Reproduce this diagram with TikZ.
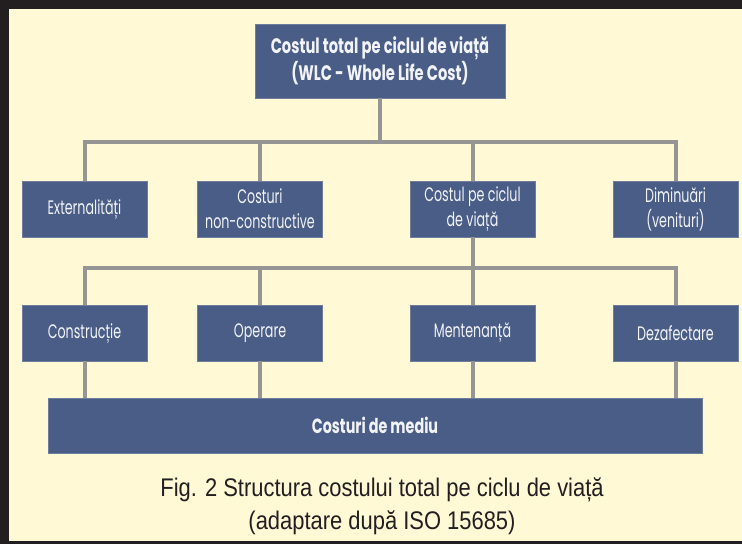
\documentclass[tikz,border=0pt]{standalone}
\usepackage{fontspec}
\newfontfamily\boxfont[FakeStretch=0.65]{Poppins}
\newfontfamily\boxfontb[FakeStretch=0.70]{Poppins}
\newfontfamily\capfont[FakeStretch=0.86]{Liberation Sans}
\definecolor{frameC}{HTML}{231F20}
\definecolor{creamC}{HTML}{FFF9D6}
\definecolor{boxC}{HTML}{4A5D87}
\definecolor{boxEdge}{HTML}{6E7D9E}
\definecolor{lineC}{HTML}{959595}
\definecolor{txtC}{HTML}{F2F3F7}
\tikzset{
  bx/.style={rectangle, fill=boxC, draw=boxEdge, line width=0.6pt, text=txtC, align=center, inner sep=0pt},
  topbx/.style={bx, minimum width=250pt, minimum height=74pt, font={\boxfontb\bfseries\fontsize{21}{25}\selectfont}},
  lvbx/.style={bx, minimum width=125pt, minimum height=56pt, font={\boxfont\fontsize{19.5}{25}\selectfont}},
  envbx/.style={bx, minimum width=654pt, minimum height=55pt, font={\boxfontb\bfseries\fontsize{20.5}{24}\selectfont}},
  conn/.style={draw=lineC, line width=4pt, line join=miter},
  captxt/.style={align=center, text=frameC, font={\capfont\fontsize{25.5}{33}\selectfont}}
}
\begin{document}
\begin{tikzpicture}[x=1pt,y=-1pt]
\fill[frameC] (0,0) rectangle (742,544);
\fill[creamC] (9,9) rectangle (742,541);
\useasboundingbox (0,0) rectangle (742,544);

% nodes
\node[topbx] (top) at (380,61) {Costul total pe ciclul de viață\\(WLC - Whole Life Cost)};

\node[lvbx] (ext) at (84.5,209) {Externalități};
\node[lvbx] (ncs) at (260,209) {Costuri\\non-constructive};
\node[lvbx] (lcc) at (472.5,209) {Costul pe ciclul\\de viață};
\node[lvbx] (dim) at (675.5,209) {Diminuări\\(venituri)};

\node[lvbx] (con) at (84.5,333) {Construcție};
\node[lvbx] (ope) at (260,333) {Operare};
\node[lvbx] (men) at (472.5,333) {Mentenanță};
\node[lvbx] (dez) at (675.5,333) {Dezafectare};

\node[envbx] (env) at (375,425.5) {Costuri de mediu};

\node[captxt] (cap) at (382,506) {Fig. 2 Structura costului total pe ciclu de viață\\(adaptare după ISO 15685)};

\coordinate (bus1) at (380,142);
\coordinate (bus2) at (472.5,268);

% connectors
\draw[conn] (top.south) -- (bus1);
\draw[conn] (ext.north) -- (ext.north |- bus1) -- (dim.north |- bus1) -- (dim.north);
\draw[conn] (ncs.north) -- (ncs.north |- bus1);
\draw[conn] (lcc.north) -- (lcc.north |- bus1);

\draw[conn] (lcc.south) -- (bus2);
\draw[conn] (con.north) -- (con.north |- bus2) -- (dez.north |- bus2) -- (dez.north);
\draw[conn] (ope.north) -- (ope.north |- bus2);
\draw[conn] (men.north) -- (men.north |- bus2);

\draw[conn] (con.south) -- (con.south |- env.north);
\draw[conn] (ope.south) -- (ope.south |- env.north);
\draw[conn] (men.south) -- (men.south |- env.north);
\draw[conn] (dez.south) -- (dez.south |- env.north);
\end{tikzpicture}
\end{document}
